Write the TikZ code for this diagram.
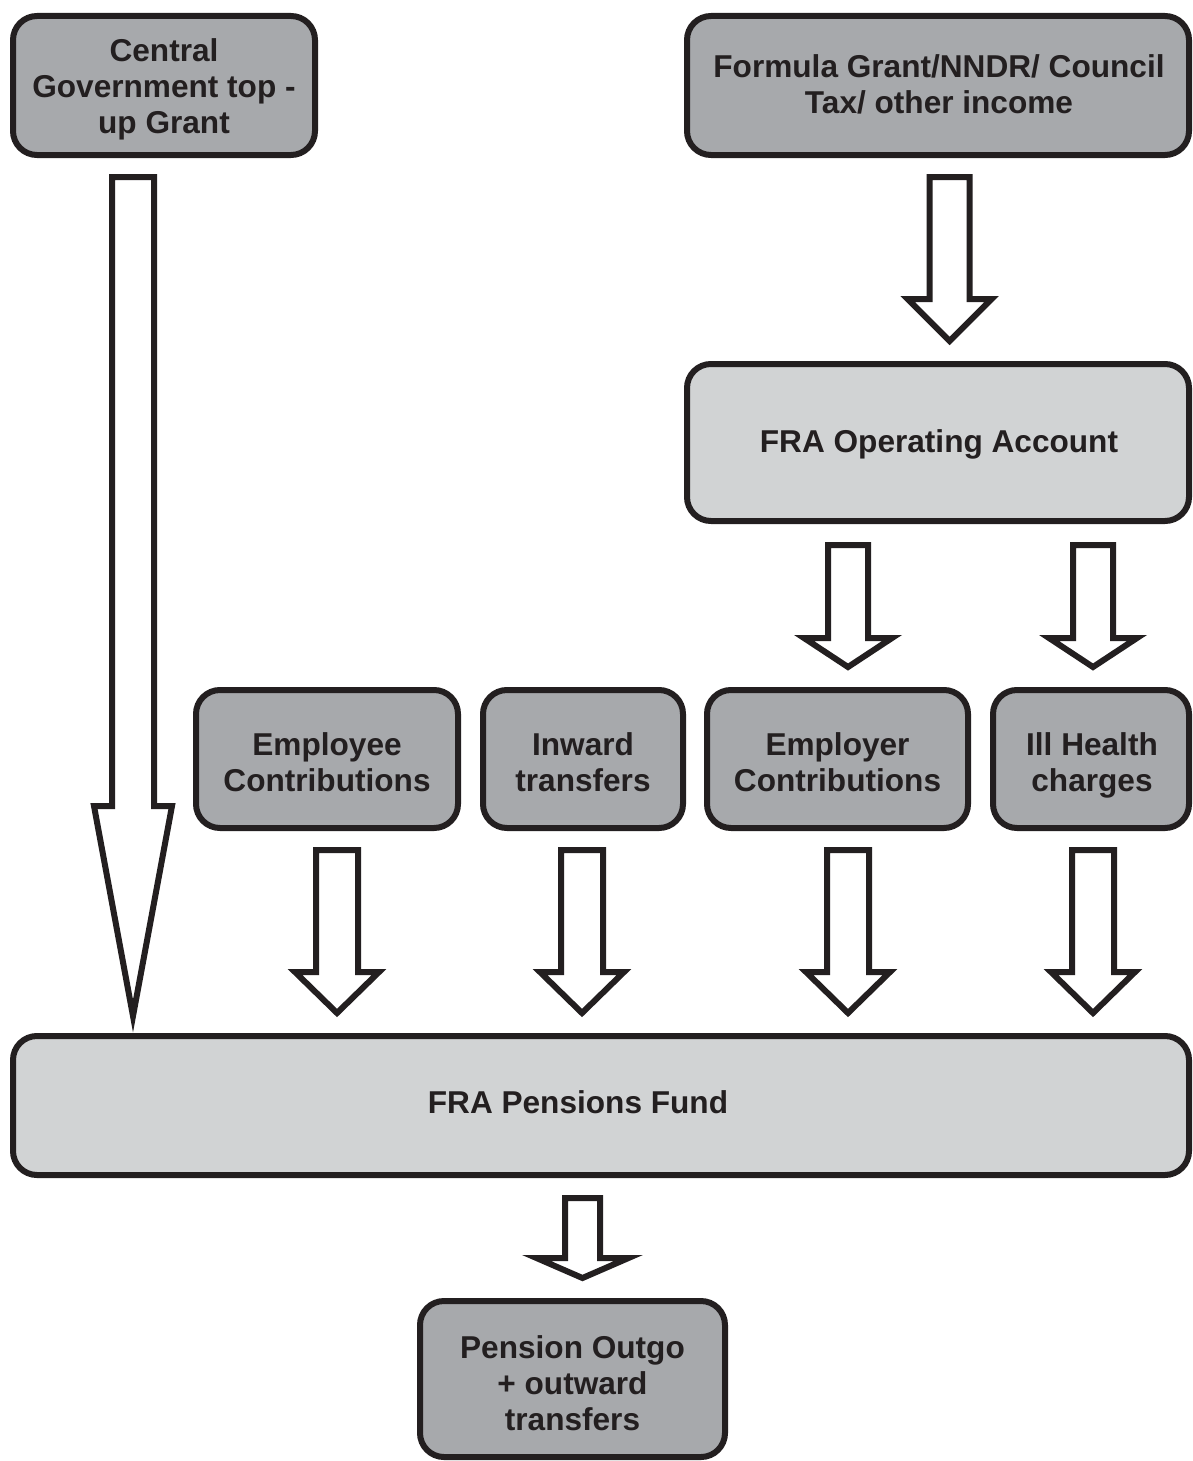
\documentclass[tikz,border=0pt]{standalone}
\usepackage{fontspec}
\setmainfont{Liberation Sans}
\usetikzlibrary{calc}
\definecolor{ink}{HTML}{231F20}
\definecolor{darkbox}{HTML}{A7A9AC}
\definecolor{lightbox}{HTML}{D1D3D4}
% #1 source node, #2 target node, #3 x centre, #4 top gap, #5 bottom gap,
% #6 half shaft width, #7 half head width, #8 head length
\newcommand{\blockarrow}[8]{%
  \draw[arr] let \p1=(#1.south), \p2=(#2.north) in
    ({#3pt-#6pt},{\y1-#4pt}) -- ({#3pt+#6pt},{\y1-#4pt})
    -- ({#3pt+#6pt},{\y2+#5pt+#8pt}) -- ({#3pt+#7pt},{\y2+#5pt+#8pt})
    -- ({#3pt},{\y2+#5pt})
    -- ({#3pt-#7pt},{\y2+#5pt+#8pt}) -- ({#3pt-#6pt},{\y2+#5pt+#8pt}) -- cycle;}
\begin{document}
\begin{tikzpicture}[x=1pt,y=-1pt,
  box/.style={draw=ink, line width=6pt, rounded corners=24pt, inner sep=0pt},
  darkfill/.style={box, fill=darkbox},
  lightfill/.style={box, fill=lightbox},
  txt/.style={inner sep=0pt, align=center, text=ink,
    font=\fontsize{31.6}{36}\selectfont\bfseries},
  arr/.style={draw=ink, fill=white, line width=6pt, line join=miter}]
\useasboundingbox (0,0) rectangle (1192,1461);

\node[darkfill, minimum width=302pt, minimum height=139pt] (cg) at (164,85.5) {};
\node[txt] (cgtext) at ($(cg.center)+(0,4)$) {Central\\Government top -\\up Grant};
\node[darkfill, minimum width=502pt, minimum height=139pt] (fg) at (938,85.5) {};
\node[txt] (fgtext) at ($(fg.center)+(1,-1)$) {Formula Grant/NNDR/ Council\\Tax/ other income};
\node[lightfill, minimum width=502pt, minimum height=157pt] (opacc) at (938,442.5) {};
\node[txt] (opacctext) at ($(opacc.center)+(1,2)$) {FRA Operating Account};
\node[darkfill, minimum width=262pt, minimum height=138pt] (emp) at (327,759) {};
\node[txt] (emptext) at ($(emp.center)+(0,3)$) {Employee\\Contributions};
\node[darkfill, minimum width=200pt, minimum height=138pt] (inw) at (583,759) {};
\node[txt] (inwtext) at ($(inw.center)+(0,3)$) {Inward\\transfers};
\node[darkfill, minimum width=261pt, minimum height=138pt] (empr) at (837.5,759) {};
\node[txt] (emprtext) at ($(empr.center)+(0,3)$) {Employer\\Contributions};
\node[darkfill, minimum width=196pt, minimum height=138pt] (ill) at (1091,759) {};
\node[txt] (illtext) at ($(ill.center)+(1,6)$) {Ill Health\\charges};
\node[lightfill, minimum width=1176pt, minimum height=139pt] (fund) at (601,1105.5) {};
\node[txt] (fundtext) at ($(fund.center)+(-23,-3)$) {FRA Pensions Fund};
\node[darkfill, minimum width=305pt, minimum height=156pt] (outgo) at (572.5,1379) {};
\node[txt] (outgotext) at ($(outgo.center)+(0,4)$) {Pension Outgo\\+ outward\\transfers};

\blockarrow{fg}{opacc}{949.5}{19}{20}{20}{42}{42}
\blockarrow{opacc}{empr}{848}{21}{20}{20}{44}{29}
\blockarrow{opacc}{ill}{1093}{21}{20}{20}{44}{29}
\blockarrow{emp}{fund}{337}{19}{20}{21}{42}{41}
\blockarrow{inw}{fund}{582}{19}{20}{21}{42}{41}
\blockarrow{empr}{fund}{848}{19}{20}{21}{42}{41}
\blockarrow{ill}{fund}{1093}{19}{20}{21}{42}{41}
\blockarrow{cg}{fund}{133}{19}{17}{21}{39}{210}
\blockarrow{fund}{outgo}{582.5}{20}{20}{17.5}{46}{20}
\end{tikzpicture}
\end{document}
